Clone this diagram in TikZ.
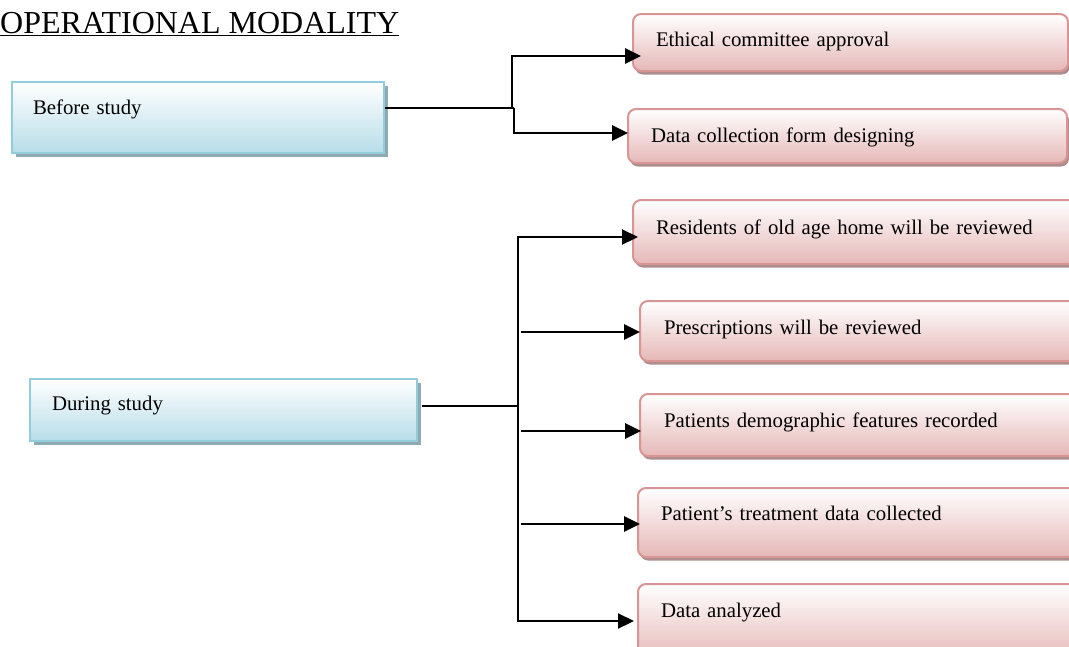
\documentclass[tikz,border=0pt]{standalone}
\usepackage{fontspec}
\setmainfont{Liberation Serif}
\usetikzlibrary{arrows.meta,shadows}
\definecolor{pinkborder}{RGB}{217,149,148}
\definecolor{pinkbottom}{RGB}{229,184,183}
\definecolor{pinkshadow}{RGB}{172,142,142}
\definecolor{blueborder}{RGB}{146,205,220}
\definecolor{bluebottom}{RGB}{183,221,232}
\definecolor{blueshadow}{RGB}{142,170,178}
\newcommand\bodyfont{\fontsize{20.8}{25}\selectfont}
\newcommand\titlefont{\fontsize{32}{36}\selectfont}
\begin{document}
\begin{tikzpicture}[x=1pt,y=-1pt,
  pinkbox/.style={draw=pinkborder, line width=2pt, rounded corners=8pt,
    top color=white, bottom color=pinkbottom,
    general shadow={fill=pinkshadow, shadow xshift=2pt, shadow yshift=-3.5pt},
    anchor=north west, inner ysep=0pt, align=left, font=\bodyfont},
  bluebox/.style={draw=blueborder, line width=2pt,
    top color=white, bottom color=bluebottom,
    general shadow={fill=blueshadow, shadow xshift=4pt, shadow yshift=-4pt},
    anchor=north west, inner ysep=0pt, align=left, font=\bodyfont},
  conn/.style={line width=2.7pt, black},
  arr/.style={conn, -{Triangle[length=16pt,width=15pt]}}
]
\useasboundingbox (0,0) rectangle (1069,646);
\clip (0,0) rectangle (1069,646);

% title
\node[anchor=base west, inner sep=0pt, font=\titlefont] (title) at (0,33) {\underline{OPERATIONAL MODALITY}};

% left boxes
\node[bluebox, text width=330pt, inner xsep=21pt, text height=32pt, text depth=39pt] (before) at (11,81) {Before study};
\node[bluebox, text width=343pt, inner xsep=22pt, text height=31pt, text depth=31pt] (during) at (29,378) {During study};

% right boxes
\node[pinkbox, text width=389pt, inner xsep=23pt, text height=32pt, text depth=25pt] (eth) at (632,13) {Ethical committee approval};
\node[pinkbox, text width=393pt, inner xsep=23pt, text height=33pt, text depth=21pt] (form) at (627,108) {Data collection form designing};
\node[pinkbox, text width=397pt, inner xsep=23pt, text height=34pt, text depth=30pt] (resid) at (632,199) {Residents of old age home will be reviewed};
\node[pinkbox, text width=388pt, inner xsep=24pt, text height=33pt, text depth=27pt] (presc) at (639,300) {Prescriptions will be reviewed};
\node[pinkbox, text width=388pt, inner xsep=24pt, text height=33pt, text depth=29pt] (demo) at (639,393) {Patients demographic features recorded};
\node[pinkbox, text width=392pt, inner xsep=23pt, text height=32pt, text depth=37pt] (treat) at (637,487) {Patient’s treatment data collected};
\node[pinkbox, text width=392pt, inner xsep=23pt, text height=33pt, text depth=44pt] (anal) at (637,583) {Data analyzed};

% before-study connectors
\coordinate (j1) at (512,108);
\coordinate (j1b) at (514,108);
\coordinate (t1) at (641,56);
\coordinate (t2) at (628,133);
\draw[conn] (before.east |- j1) -- (j1b);
\draw[arr] (j1) |- (t1);
\draw[arr] (j1b) |- (t2);

% during-study connectors
\coordinate (d0) at (422,406);
\coordinate (j2) at (518,406);
\coordinate (tA) at (638,237);
\coordinate (sB) at (521,332);
\coordinate (tB) at (640,332);
\coordinate (sC) at (521,431);
\coordinate (tC) at (641,431);
\coordinate (sD) at (521,524);
\coordinate (tD) at (640,524);
\coordinate (tE) at (634,621);
\draw[conn, line width=2.2pt] (d0) -- (j2);
\draw[arr, line width=2.2pt] (j2) |- (tA);
\draw[arr, line width=2.2pt] (j2) |- (tE);
\draw[arr] (sB) -- (tB);
\draw[arr] (sC) -- (tC);
\draw[arr] (sD) -- (tD);
\end{tikzpicture}
\end{document}
